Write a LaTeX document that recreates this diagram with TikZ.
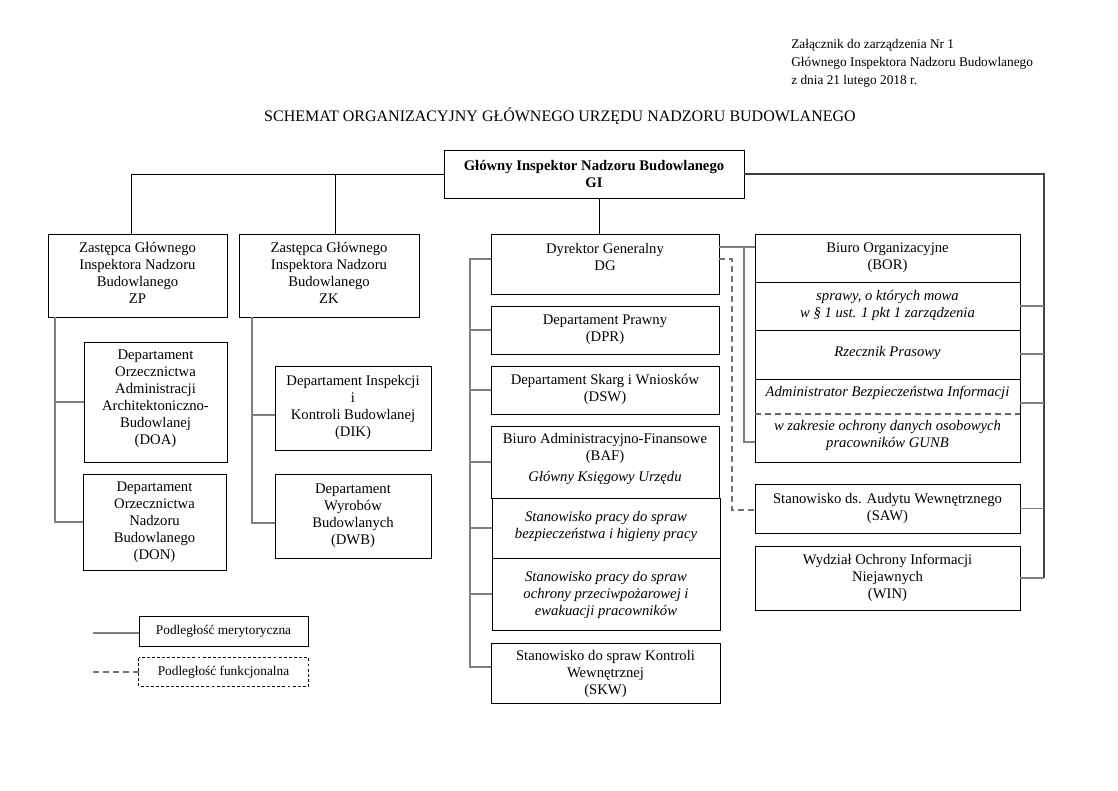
\documentclass[tikz,border=0pt]{standalone}
\usepackage{fontspec}
\setmainfont{Liberation Serif}
\usetikzlibrary{fit,calc}
\begin{document}
\begin{tikzpicture}[x=0.75pt,y=-0.75pt,
  box/.style={draw=black, line width=0.6pt, inner sep=0pt},
  txt/.style={inner sep=0pt, align=center, font=\fontsize{11}{12.75}\selectfont},
  itxt/.style={txt, font=\fontsize{11}{12.75}\selectfont\itshape},
  btxt/.style={txt, font=\fontsize{11}{12.75}\selectfont\bfseries},
  ltxt/.style={inner sep=0pt, align=center, font=\fontsize{10}{12}\selectfont},
  blk/.style={draw=black, line width=0.6pt},
  rtl/.style={draw=black!75, line width=0.8pt},
  gr/.style={draw=black!50, line width=1.1pt},
  dsh/.style={draw=black!55, line width=0.9pt, dash pattern=on 4.5pt off 3pt},
  divl/.style={draw=black, line width=0.6pt},
  ddiv/.style={draw=black!60, line width=0.9pt, dash pattern=on 4.5pt off 3pt}]
\useasboundingbox (0,0) rectangle (1118,790);

% header
\node[anchor=north west, align=left, inner sep=0pt,
  font=\fontsize{10}{13.5}\selectfont] (hdr) at (791,39)
  {Załącznik do zarządzenia Nr 1\\Głównego Inspektora Nadzoru Budowlanego\\z dnia 21 lutego 2018 r.};
\node[inner sep=0pt, font=\fontsize{12}{14}\selectfont] (title) at (560,116)
  {SCHEMAT ORGANIZACYJNY GŁÓWNEGO URZĘDU NADZORU BUDOWLANEGO};

% top
\node[box, fit={(444,150) (744,198)}] (gi) {};
\node[btxt] (git) at (594,174) {Główny Inspektor Nadzoru Budowlanego\\GI};

% left deputies
\node[box, fit={(48,234) (227,317)}] (zp) {};
\node[txt] (zpx) at (137.5,273) {Zastępca Głównego\\Inspektora Nadzoru\\Budowlanego\\ZP};
\node[box, fit={(239,234) (419,317)}] (zk) {};
\node[txt] (zkx) at (329,273) {Zastępca Głównego\\Inspektora Nadzoru\\Budowlanego\\ZK};
\node[box, fit={(84,342) (227,462)}] (doa) {};
\node[txt] (doax) at (155.5,399) {Departament\\Orzecznictwa\\Administracji\\Architektoniczno-\\Budowlanej\\(DOA)};
\node[box, fit={(83,474) (226,570)}] (don) {};
\node[txt] (donx) at (154.5,522) {Departament\\Orzecznictwa\\Nadzoru\\Budowlanego\\(DON)};
\node[box, fit={(275,366) (431,450)}] (dik) {};
\node[txt] (dikx) at (353,407) {Departament Inspekcji\\i\\Kontroli Budowlanej\\(DIK)};
\node[box, fit={(275,474) (431,558)}] (dwb) {};
\node[txt] (dwbx) at (353,515.5) {Departament\\Wyrobów\\Budowlanych\\(DWB)};

% DG column
\node[box, fit={(491,234) (719,294)}] (dg) {};
\node[txt] (dgx) at (605,257) {Dyrektor Generalny\\DG};
\node[box, fit={(491,306) (719,354)}] (dpr) {};
\node[txt] (dprx) at (605,329.5) {Departament Prawny\\(DPR)};
\node[box, fit={(491,366) (719,414)}] (dsw) {};
\node[txt] (dswx) at (605,389) {Departament Skarg i Wniosków\\(DSW)};
\node[box, fit={(491,426) (719,498)}] (baf) {};
\node[txt] (bafx) at (605,459) {Biuro Administracyjno-Finansowe\\(BAF)\\[3.5pt]\textit{Główny Księgowy Urzędu}};
\node[box, fit={(492,498) (720,558)}] (bhp) {};
\node[itxt] (bhpx) at (606,526.5) {Stanowisko pracy do spraw\\bezpieczeństwa i higieny pracy};
\node[box, fit={(492,558) (720,630)}] (poz) {};
\node[itxt] (pozx) at (606,594.5) {Stanowisko pracy do spraw\\ochrony przeciwpożarowej i\\ewakuacji pracowników};
\node[box, fit={(491,643) (720,703)}] (skw) {};
\node[txt] (skwx) at (605.5,673.5) {Stanowisko do spraw Kontroli\\Wewnętrznej\\(SKW)};

% BOR compound box
\node[box, fit={(755,234) (1020,462)}] (bor) {};
\coordinate (b1) at (0,282);
\coordinate (b2) at (0,330);
\coordinate (b3) at (0,379);
\coordinate (b4) at (0,414);
\draw[divl] (bor.west |- b1) -- (bor.east |- b1);
\draw[divl] (bor.west |- b2) -- (bor.east |- b2);
\draw[divl] (bor.west |- b3) -- (bor.east |- b3);
\draw[ddiv] (bor.west |- b4) -- (bor.east |- b4);
\node[txt] (bort) at (887.5,257.5) {Biuro Organizacyjne\\(BOR)};
\node[itxt] (bspr) at (887.5,305) {sprawy, o których mowa\\w § 1 ust. 1 pkt 1 zarządzenia};
\node[itxt] (brz) at (887.5,353) {Rzecznik Prasowy};
\node[itxt] (badm) at (887.5,393) {Administrator Bezpieczeństwa Informacji};
\node[itxt] (bodo) at (887.5,435.5) {w zakresie ochrony danych osobowych\\pracowników GUNB};

\node[box, fit={(755,484) (1020,533)}] (saw) {};
\node[txt] (sawx) at (887.5,508) {Stanowisko ds. Audytu Wewnętrznego\\(SAW)};
\node[box, fit={(755,546) (1020,610)}] (win) {};
\node[txt] (winx) at (887.5,578) {Wydział Ochrony Informacji\\Niejawnych\\(WIN)};

% legend
\node[box, fit={(139,616) (308,646)}] (leg1) {};
\node[ltxt] (leg1x) at (223.5,631) {Podległość merytoryczna};
\node[inner sep=0pt, fit={(139,658) (308,686)}] (leg2) {};
\draw[draw=black, line width=0.6pt, dash pattern=on 2.2pt off 1.6pt] (leg2.north west) rectangle (leg2.south east);
\node[ltxt] (leg2x) at (223.5,672) {Podległość funkcjonalna};
\coordinate (l1) at (93,633);
\coordinate (l2) at (93,672);
\draw[gr] (l1) -- (l1 -| leg1.west);
\draw[dsh] (l2) -- (l2 -| leg2.west);

% GI connectors
\coordinate (lt) at (131,174);
\coordinate (zkj) at (335,174);
\draw[blk] (gi.west) -- (lt) -- (lt |- zp.north);
\draw[blk] (zkj) -- (zkj |- zk.north);
\coordinate (gd) at (599,198);
\draw[blk] (gd) -- (gd |- dg.north);
\coordinate (rtop) at (1044,174);
\coordinate (rbot) at (1044,578);
\draw[rtl] (gi.east) -- (rtop) -- (rbot);
\draw[gr] (rbot) -- (rbot -| win.east);

% ZP branch
\coordinate (zpt) at (55,317);
\draw[gr] (zpt) -- (zpt |- don.west) -- (don.west);
\draw[gr] (doa.west) -- (doa.west -| zpt);
% ZK branch
\coordinate (zkt) at (252,317);
\coordinate (zk1) at (252,415);
\coordinate (zk2) at (252,523);
\draw[gr] (zkt) -- (zk2) -- (zk2 -| dwb.west);
\draw[gr] (zk1) -- (zk1 -| dik.west);

% DG branch
\coordinate (dgt) at (470,259);
\coordinate (dgb) at (470,667);
\draw[gr] (dg.west |- dgt) -- (dgt) -- (dgb) -- (dgb -| skw.west);
\draw[gr] (dpr.west) -- (dpr.west -| dgt);
\draw[gr] (dsw.west) -- (dsw.west -| dgt);
\draw[gr] (baf.west) -- (baf.west -| dgt);
\draw[gr] (bhp.west) -- (bhp.west -| dgt);
\draw[gr] (poz.west) -- (poz.west -| dgt);

% DG to BOR
\coordinate (v1) at (744,247);
\coordinate (v2) at (744,442);
\draw[gr] (dg.east |- v1) -- (bor.west |- v1);
\draw[gr] (v1) -- (v2) -- (v2 -| bor.west);
% dashed DG to SAW
\coordinate (d1) at (732,259);
\coordinate (d2) at (732,510);
\draw[dsh] (dg.east |- d1) -- (d1) -- (d2) -- (d2 -| saw.west);

% right trunk branches
\coordinate (r1) at (1044,306);
\coordinate (r2) at (1044,354);
\coordinate (r3) at (1044,403);
\draw[gr] (r1) -- (r1 -| bor.east);
\draw[gr] (r2) -- (r2 -| bor.east);
\draw[gr] (r3) -- (r3 -| bor.east);
\draw[gr] (saw.east) -- (saw.east -| rtop);
\end{tikzpicture}
\end{document}
